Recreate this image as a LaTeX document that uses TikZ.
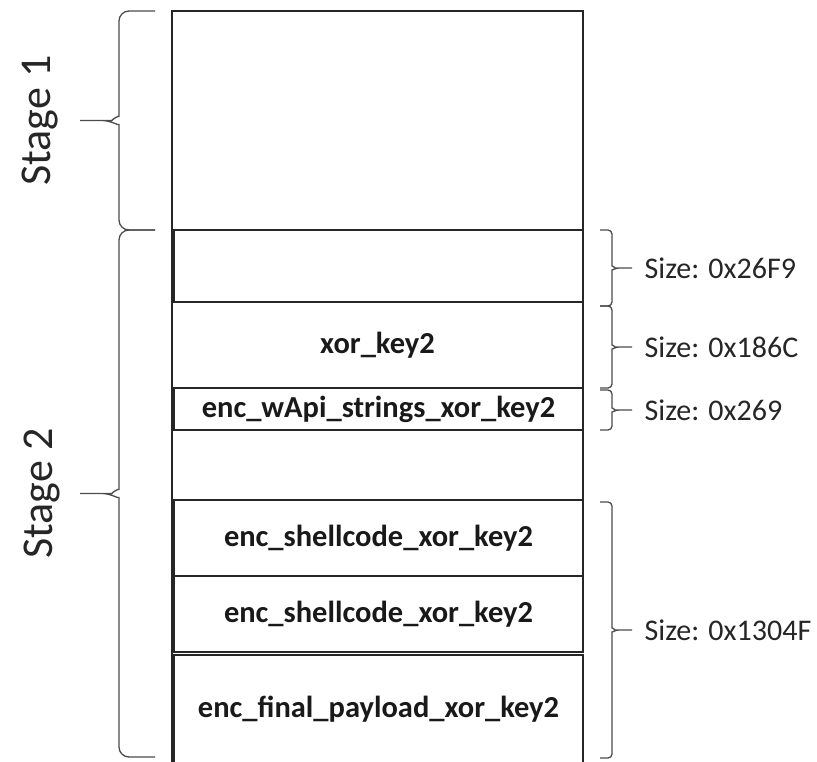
\documentclass[tikz,border=0pt]{standalone}
\usepackage{fontspec}
\setmainfont{Carlito}
\usepackage{tikz}
\usetikzlibrary{positioning,calc}

\newcommand{\cellfont}{\fontsize{30.5}{36}\selectfont\bfseries}
\newcommand{\sizefont}{\fontsize{30}{36}\selectfont}
\newcommand{\stagefont}{\fontsize{44}{52}\selectfont}

\tikzset{
  memcell/.style={draw=black!85, line width=1.3pt, minimum width=409pt,
    inner sep=0pt, outer sep=0pt, font=\cellfont, text=black!90},
  memline/.style={draw=black!85, line width=1.3pt},
  braceline/.style={draw=black!70, line width=1.3pt},
  sizelabel/.style={font=\sizefont, text=black!85, inner sep=0pt},
  stagelabel/.style={font=\stagefont, text=black!85, rotate=90, inner sep=0pt},
}

% left brace: top anchor, bottom anchor, tip name
\newcommand{\stagebrace}[3]{%
  \draw[braceline] let \p1=(#1), \p2=(#2), \p3=($(#1)!.5!(#2)$) in
    [rounded corners=10pt] (\x1-17pt,\y1) -- (\x1-53pt,\y1) -- (\x1-53pt,\y3+14pt)
    to[out=-90,in=0] (\x1-70pt,\y3) -- (\x1-92pt,\y3) coordinate (#3)
    (\x1-17pt,\y2) -- (\x1-53pt,\y2) -- (\x1-53pt,\y3-14pt)
    to[out=90,in=0] (\x1-70pt,\y3);
}
% right brace: top anchor, bottom anchor, label name, label text
\newcommand{\sizebrace}[4]{%
  \draw[braceline] let \p1=(#1), \p2=(#2), \p3=($(#1)!.5!(#2)$) in
    [rounded corners=4pt] (\x1+17pt,\y1) -- (\x1+29pt,\y1) -- (\x1+29pt,\y3+6pt)
    to[out=-90,in=180] (\x1+36pt,\y3) -- (\x1+49pt,\y3)
    (\x1+17pt,\y2) -- (\x1+29pt,\y2) -- (\x1+29pt,\y3-6pt)
    to[out=90,in=180] (\x1+36pt,\y3)
    node[sizelabel, anchor=west] (#3) at (\x1+61pt,\y3) {#4};
}

\begin{document}
\begin{tikzpicture}[x=1pt,y=-1pt]
    \clip (0,0) rectangle (817,761);

    % memory column
    \node[memcell, minimum width=411pt, minimum height=219pt] (stageone) at (377.5,120.5) {};
    \draw[memline] (stageone.south west) -- ++(0,560);
    \node[memcell, minimum height=72pt] (slotA) at (378.5,266) {};
    \node[memcell, minimum width=411pt, minimum height=86pt] (keybox) at (377.5,345) {xor\_key2};
    \node[memcell, minimum height=42pt] (apibox) at (378.5,409) {enc\_wApi\_strings\_xor\_key2};
    \node[memcell, minimum width=411pt, minimum height=70pt] (gapbox) at (377.5,465) {};
    \node[memcell, minimum height=76pt] (shellone) at (378.5,538) {enc\_shellcode\_xor\_key2};
    \node[memcell, minimum height=76pt] (shelltwo) at (378.5,614) {enc\_shellcode\_xor\_key2};
    \node[memcell, minimum height=108pt] (finalbox) at (378.5,709) {enc\_final\_payload\_xor\_key2};

    % stages
    \stagebrace{stageone.north west}{stageone.south west}{tipone}
    \node[stagelabel, anchor=south] (stageonelabel) at ([xshift=-22pt]tipone) {Stage 1};
    \stagebrace{stageone.south west}{[yshift=6pt]finalbox.south west}{tiptwo}
    \node[stagelabel, anchor=south] (stagetwolabel) at ([xshift=-20pt]tiptwo) {Stage 2};

    % sizes
    \sizebrace{slotA.north east}{[yshift=-4pt]slotA.south east}{sizeA}{Size: 0x26F9}
    \sizebrace{[yshift=-4pt]keybox.north east}{keybox.south east}{sizekey}{Size: 0x186C}
    \sizebrace{[yshift=-2pt]apibox.north east}{apibox.south east}{sizeapi}{Size: 0x269}
    \sizebrace{[yshift=-2pt]shellone.north east}{[yshift=5pt]finalbox.south east}{sizeshell}{Size: 0x1304F}
\end{tikzpicture}
\end{document}
